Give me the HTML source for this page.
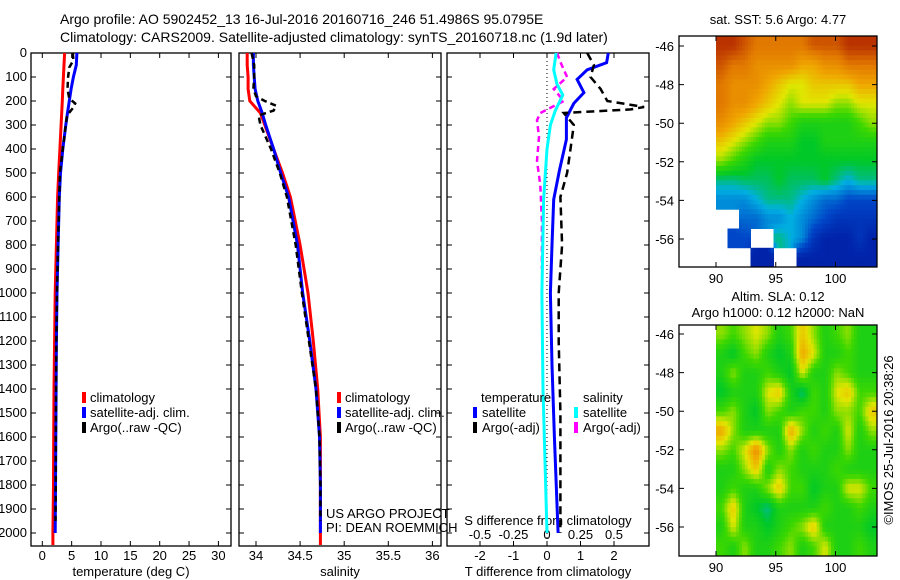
<!DOCTYPE html>
<html><head><meta charset="utf-8">
<style>
body{margin:0;background:#fff;}
svg{display:block;font-family:"Liberation Sans",sans-serif;}
text{font-size:13px;fill:#000;}
</style></head>
<body>
<svg id="c" width="900" height="580" xmlns="http://www.w3.org/2000/svg">
<text x="60" y="24" style="font-size:14px">Argo profile: AO 5902452_13 16-Jul-2016 20160716_246 51.4986S 95.0795E</text>
<text x="60" y="42" style="font-size:14px">Climatology: CARS2009. Satellite-adjusted climatology: synTS_20160718.nc (1.9d later)</text>
<text x="778" y="24" text-anchor="middle">sat. SST: 5.6 Argo: 4.77</text>
<text x="778" y="301" text-anchor="middle">Altim. SLA: 0.12</text>
<text x="778" y="317" text-anchor="middle">Argo h1000: 0.12 h2000: NaN</text>
<text transform="translate(893,440) rotate(-90)" text-anchor="middle">©IMOS 25-Jul-2016 20:38:26</text>
</svg>
<script>
// ---- profile data ----
const climDepth=[0,50,100,150,200,250,300,400,500,600,800,1000,1200,1400,1600,1800,2000,2050];
const satDepth=[0,50,100,150,200,250,300,400,500,600,800,1000,1200,1400,1600,1800,2000];
const tempClim=[3.8,3.7,3.6,3.5,3.4,3.3,3.2,3.0,2.8,2.6,2.4,2.2,2.1,2.0,1.95,1.9,1.8,1.8];
const tempSat=[5.9,5.8,5.3,4.9,4.6,4.3,4.0,3.5,3.1,2.9,2.7,2.5,2.4,2.35,2.3,2.25,2.2];
const argoTDepth=[0,30,60,100,150,190,210,230,260,300,400,500,600,800,1000,1200,1400,1600,1800,1950];
const tempArgo=[5.2,5.3,4.6,4.4,4.3,4.6,5.6,5.2,4.2,4.0,3.5,3.0,2.9,2.7,2.5,2.4,2.35,2.3,2.3,2.25];
const salClim=[33.9,33.9,33.91,33.91,33.93,34.05,34.1,34.2,34.3,34.39,34.5,34.59,34.65,34.7,34.73,34.73,34.73,34.73];
const salSat=[33.97,33.97,33.98,33.99,34.02,34.07,34.11,34.2,34.28,34.37,34.47,34.53,34.61,34.68,34.72,34.73,34.73];
const argoSDepth=[0,50,100,150,180,200,220,240,260,300,400,500,600,800,1000,1200,1400,1600,1800,1950];
const salArgo=[33.95,33.98,33.98,33.97,34.0,34.1,34.23,34.2,34.03,34.05,34.17,34.27,34.35,34.45,34.52,34.6,34.68,34.72,34.73,34.73];
const dTSatDepth=[0,40,70,110,165,210,270,360,490,610,800,1000,1300,1600,2000];
const dTSat=[1.83,1.78,1.2,0.9,1.1,0.8,0.58,0.58,0.37,0.2,0.15,0.1,0.15,0.22,0.33];
const dTArgoDepth=[0,50,100,150,200,225,235,250,300,400,500,600,800,1000,1200,1500,1800,2000];
const dTArgo=[1.2,1.4,1.3,1.6,1.8,2.9,2.5,0.5,0.8,0.7,0.6,0.4,0.45,0.35,0.35,0.4,0.4,0.4];
const dSSatDepth=[0,70,130,175,240,300,400,610,1000,1400,2000];
const dSSat=[0.068,0.05,0.075,0.118,0.062,0.025,0,-0.025,-0.038,-0.03,0];
const dSArgoDepth=[0,50,100,150,200,250,280,350,450,550,700,900];
const dSArgo=[0.075,0.11,0.15,0.05,0.125,-0.05,-0.075,-0.06,-0.075,-0.05,-0.038,-0.038];
const depthTicks=[0,100,200,300,400,500,600,700,800,900,1000,1100,1200,1300,1400,1500,1600,1700,1800,1900,2000];
const tempTicks=[0,5,10,15,20,25,30];
const salTicks=[34,34.5,35,35.5,36];
const dTTicks=[-2,-1,0,1,2];
const dSTicks=[-0.5,-0.25,0,0.25,0.5];
const dSTickLabels=['-0.5','-0.25','0','0.25','0.5'];
// ---- map data (colormap fraction, null = no data) ----
const sstGrid=[
[0.95,0.95,0.9,0.85,0.85,0.85,0.85,0.85,0.9,0.9,0.9,0.95,0.95,0.95],
[0.9,0.85,0.85,0.8,0.8,0.8,0.8,0.75,0.75,0.8,0.8,0.85,0.85,0.85],
[0.85,0.8,0.8,0.8,0.75,0.7,0.65,0.65,0.7,0.7,0.7,0.7,0.75,0.75],
[0.85,0.8,0.8,0.75,0.7,0.65,0.6,0.65,0.65,0.65,0.6,0.6,0.65,0.65],
[0.8,0.75,0.7,0.65,0.6,0.6,0.55,0.5,0.5,0.5,0.5,0.5,0.55,0.6],
[0.7,0.65,0.6,0.55,0.5,0.5,0.5,0.45,0.45,0.5,0.5,0.5,0.5,0.5],
[0.6,0.55,0.5,0.45,0.45,0.45,0.45,0.45,0.45,0.45,0.45,0.45,0.45,0.45],
[0.4,0.4,0.42,0.42,0.42,0.45,0.42,0.42,0.42,0.45,0.4,0.35,0.4,0.4],
[0.3,0.3,0.3,0.35,0.4,0.4,0.4,0.35,0.3,0.25,0.25,0.2,0.2,0.2],
[null,null,0.25,0.25,0.3,0.3,0.35,0.3,0.25,0.2,0.15,0.15,0.15,0.15],
[null,0.2,0.2,null,null,0.4,0.35,0.3,0.15,0.1,0.1,0.1,0.15,0.1],
[null,null,null,0.1,0.1,null,null,0.1,0.1,0.1,0.1,0.1,0.1,0.1]];
const slaGrid=[
[.6,.55,.6,.65,.6,.5,.55,.7,.6,.5,.55,.6,.5,.5],
[.5,.45,.55,.6,.5,.45,.5,.75,.65,.5,.5,.55,.5,.5],
[.5,.6,.5,.5,.55,.5,.45,.65,.5,.5,.6,.55,.5,.5],
[.45,.5,.5,.5,.65,.7,.5,.4,.55,.5,.65,.7,.55,.55],
[.55,.6,.5,.45,.6,.55,.5,.55,.55,.5,.6,.6,.55,.7],
[.75,.6,.5,.5,.5,.5,.75,.6,.5,.55,.5,.65,.5,.6],
[.6,.55,.65,.8,.6,.5,.6,.5,.55,.5,.5,.6,.5,.5],
[.5,.5,.6,.7,.5,.6,.55,.5,.5,.5,.55,.5,.5,.5],
[.5,.55,.5,.5,.6,.7,.55,.55,.45,.5,.5,.65,.65,.55],
[.55,.7,.5,.45,.4,.5,.5,.5,.5,.55,.5,.5,.55,.5],
[.5,.65,.5,.5,.45,.5,.55,.6,.7,.5,.5,.5,.5,.45],
[.55,.5,.6,.5,.5,.55,.6,.5,.55,.65,.5,.5,.55,.5]];
const lonTicks=[90,95,100];
const latTicks=[-46,-48,-50,-52,-54,-56];

const NS='http://www.w3.org/2000/svg';
const svg=document.getElementById('c');
function mk(tag,attrs,parent){const e=document.createElementNS(NS,tag);for(const k in attrs)e.setAttribute(k,attrs[k]);(parent||svg).appendChild(e);return e;}
const P_TOP=53,P_BOT=546;
const yD=d=>P_TOP+d*0.24;
const xT=v=>42.3+v*5.87;
const xS=v=>256+(v-34)*88.2;
const xDT=v=>547+v*33.5;
const xDS=v=>547+v*134;

function frame(x0,x1,name){
  const r=mk('rect',{x:x0,y:P_TOP,width:x1-x0,height:P_BOT-P_TOP,fill:'none',stroke:'#000','stroke-width':1.3});
  
  
  depthTicks.forEach(d=>{
    const t=mk('path',{d:`M${x0} ${yD(d)}h5M${x1} ${yD(d)}h-5`,stroke:'#000'});
    
    
  });
}
function line(xf,xs,ds,col,w,dash,name){
  const d=xs.map((v,i)=>(i?'L':'M')+xf(v).toFixed(1)+' '+yD(ds[i]).toFixed(1)).join('');
  const p=mk('path',{d:d,fill:'none',stroke:col,'stroke-width':w,'stroke-dasharray':dash||'none'});
  
  
}
function xticks(x0,x1,ticks,xf,labels,ly,name){
  ticks.forEach((t,i)=>{
    const x=xf(t);
    const tk=mk('path',{d:`M${x} ${P_BOT}v-5M${x} ${P_TOP}v5`,stroke:'#000'});
    
    
    const tx=mk('text',{x:x,y:ly,'text-anchor':'middle'});tx.textContent=labels?labels[i]:t;
    
    
  });
}
function txt(x,y,s,name,anchor){const t=mk('text',{x:x,y:y,'text-anchor':anchor||'start'});t.textContent=s;
  
  return t;}
function legMark(x,y,col,name){const r=mk('rect',{x:x,y:y-10,width:4,height:11,fill:col});
  
  }

// Panel 1 temperature
frame(31,231,'temperature-panel');
depthTicks.forEach(d=>{txt(27,yD(d)+4,String(d),'depth-tick-label','end');});
xticks(31,231,tempTicks,xT,null,560,'temperature-axis');
txt(131,576,'temperature (deg C)','temperature-axis-title','middle');
line(xT,tempClim,climDepth,'#f00',3,null,'temperature-climatology-line');
line(xT,tempSat,satDepth,'#00f',3,null,'temperature-satellite-line');
line(xT,tempArgo,argoTDepth,'#000',2.5,'6 4','temperature-argo-line');
legMark(82,402,'#f00','legend-climatology-marker');txt(90,402,'climatology','legend-climatology');
legMark(82,417,'#00f','legend-satellite-marker');txt(90,417,'satellite-adj. clim.','legend-satellite');
legMark(82,432,'#000','legend-argo-marker');txt(90,432,'Argo(..raw -QC)','legend-argo');

// Panel 2 salinity
frame(239,441,'salinity-panel');
xticks(239,441,salTicks,xS,['34','34.5','35','35.5','36'],560,'salinity-axis');
txt(340,576,'salinity','salinity-axis-title','middle');
line(xS,salClim,climDepth,'#f00',3,null,'salinity-climatology-line');
line(xS,salSat,satDepth,'#00f',3,null,'salinity-satellite-line');
line(xS,salArgo,argoSDepth,'#000',2.5,'6 4','salinity-argo-line');
legMark(337,402,'#f00','legend2-climatology-marker');txt(345,402,'climatology','legend2-climatology');
legMark(337,417,'#00f','legend2-satellite-marker');txt(345,417,'satellite-adj. clim.','legend2-satellite');
legMark(337,432,'#000','legend2-argo-marker');txt(345,432,'Argo(..raw -QC)','legend2-argo');
txt(326,518,'US ARGO PROJECT','credit-project');
txt(326,532,'PI: DEAN ROEMMICH','credit-pi');

// Panel 3 differences
frame(447,649,'difference-panel');
xticks(447,649,dTTicks,xDT,null,560,'t-diff-axis');
dSTicks.forEach((t,i)=>{txt(xDS(t),539,dSTickLabels[i],'s-diff-tick-label','middle');});
txt(548,525,'S difference from climatology','s-diff-axis-title','middle');
txt(548,576,'T difference from climatology','t-diff-axis-title','middle');
const zl=mk('path',{d:`M${xDT(0)} ${P_TOP}V${P_BOT}`,stroke:'#000','stroke-dasharray':'1 3'});


line(xDS,dSArgo,dSArgoDepth,'#f0f',2.5,'6 4','salinity-argo-diff-line');
line(xDS,dSSat,dSSatDepth,'#0ff',3,null,'salinity-satellite-diff-line');
line(xDT,dTSat,dTSatDepth,'#00f',3,null,'temperature-satellite-diff-line');
line(xDT,dTArgo,dTArgoDepth,'#000',2.5,'8 5','temperature-argo-diff-line');
txt(481,402,'temperature','legend3-temperature-heading');
txt(583,402,'salinity','legend3-salinity-heading');
legMark(473,417,'#00f','legend3-t-sat-marker');txt(482,417,'satellite','legend3-t-sat');
legMark(473,432,'#000','legend3-t-argo-marker');txt(482,432,'Argo(-adj)','legend3-t-argo');
legMark(574,417,'#0ff','legend3-s-sat-marker');txt(583,417,'satellite','legend3-s-sat');
legMark(574,432,'#f0f','legend3-s-argo-marker');txt(583,432,'Argo(-adj)','legend3-s-argo');

// Maps
const cmapStops=[[0,[0,0,140]],[0.2,[0,70,200]],[0.35,[0,175,225]],[0.45,[0,200,40]],[0.55,[60,215,0]],[0.65,[225,230,0]],[0.75,[240,165,0]],[0.85,[225,120,0]],[1,[165,15,0]]];
function cmap(v){
  for(let k=1;k<cmapStops.length;k++){
    const [a,ca]=cmapStops[k-1],[b,cb]=cmapStops[k];
    if(v<=b){const t=(v-a)/(b-a);return 'rgb('+ca.map((c,i)=>Math.round(c+(cb[i]-c)*t)).join(',')+')';}
  }
  return 'rgb(165,15,0)';
}
function sample(grid,fi,fj){
  const rows=grid.length,cols=grid[0].length;
  const i0=Math.max(0,Math.min(rows-1,Math.floor(fi))),j0=Math.max(0,Math.min(cols-1,Math.floor(fj)));
  const i1=Math.min(rows-1,i0+1),j1=Math.min(cols-1,j0+1);
  const ti=Math.max(0,Math.min(1,fi-i0)),tj=Math.max(0,Math.min(1,fj-j0));
  const v=[grid[i0][j0],grid[i0][j1],grid[i1][j0],grid[i1][j1]];
  if(grid[Math.round(Math.max(0,Math.min(rows-1,fi)))][Math.round(Math.max(0,Math.min(cols-1,fj)))]===null)return null;
  const w=[(1-ti)*(1-tj),(1-ti)*tj,ti*(1-tj),ti*tj];
  let s=0,ws=0;v.forEach((x,k)=>{if(x!==null){s+=x*w[k];ws+=w[k];}});
  return ws?s/ws:null;
}
function map(top,bot,lat46,grid,name){
  const xL=lo=>716+(lo-90)*11.95;
  const yL=la=>lat46+(-46-la)*19.3;
  const g=mk('g',{});
  
  
  const rows=grid.length,cols=grid[0].length,S=4;
  const x0=716,x1=877,cw=(x1-x0)/cols/S,ch=(bot-top)/rows/S;
  for(let i=0;i<rows*S;i++)for(let j=0;j<cols*S;j++){
    const v=sample(grid,(i+0.5)/S-0.5,(j+0.5)/S-0.5);
    if(v===null)continue;
    const c=mk('rect',{x:(x0+j*cw).toFixed(1),y:(top+i*ch).toFixed(1),width:(cw+0.5).toFixed(1),height:(ch+0.5).toFixed(1),fill:cmap(v)},g);
    
    
  }
  const f=mk('rect',{x:679,y:top,width:198,height:bot-top,fill:'none',stroke:'#000','stroke-width':1.3});
  
  
  latTicks.forEach(la=>{
    const y=yL(la);
    const t=mk('path',{d:`M679 ${y}h5M877 ${y}h-5`,stroke:'#000'});
    
    
    txt(674,y+5,String(la),'lat-tick-label','end');
  });
  lonTicks.forEach(lo=>{
    const x=xL(lo);
    const t=mk('path',{d:`M${x} ${bot}v-5M${x} ${top}v5`,stroke:'#000'});
    
    
    txt(x,bot+16,String(lo),'lon-tick-label','middle');
  });
}
map(36,267,46,sstGrid,'sst-map');
map(325,556,334,slaGrid,'sla-map');
</script>
</body></html>
